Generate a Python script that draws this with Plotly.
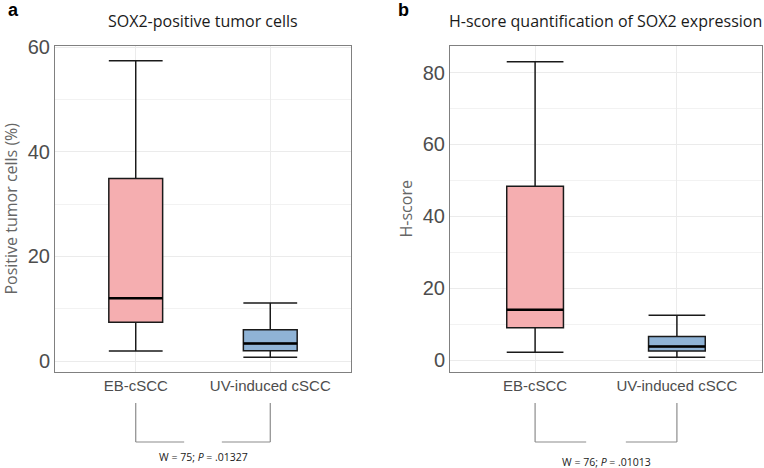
import plotly.graph_objects as go

categories = ["EB-cSCC", "UV-induced cSCC"]
xpos = [1, 2]

# Panel a: SOX2-positive tumor cells (%)
a_low = [1.9, 0.7]
a_q1 = [7.4, 1.95]
a_med = [12.0, 3.35]
a_q3 = [34.9, 6.0]
a_high = [57.4, 11.1]

# Panel b: H-score
b_low = [2.2, 0.8]
b_q1 = [9.0, 2.5]
b_med = [14.0, 3.8]
b_q3 = [48.4, 6.6]
b_high = [83.0, 12.5]

fills = ["#F5AEB0", "#8FB3D6"]
stat_a = "W = 75; <i>P</i> = .01327"
stat_b = "W = 76; <i>P</i> = .01013"

W, H = 764, 468
BOXW = 0.4

fig = go.Figure()

def add_panel(low, q1, med, q3, high, xa, ya):
    for i in range(2):
        fig.add_trace(go.Box(
            x=[xpos[i]], lowerfence=[low[i]], q1=[q1[i]], median=[med[i]],
            q3=[q3[i]], upperfence=[high[i]], width=BOXW, whiskerwidth=1,
            fillcolor=fills[i], line=dict(color="#1a1a1a", width=1.5),
            showlegend=False, xaxis=xa, yaxis=ya, hoverinfo="skip"))
        fig.add_trace(go.Scatter(
            x=[xpos[i] - BOXW / 2, xpos[i] + BOXW / 2], y=[med[i], med[i]],
            mode="lines", line=dict(color="black", width=2.6),
            showlegend=False, xaxis=xa, yaxis=ya, hoverinfo="skip"))

add_panel(a_low, a_q1, a_med, a_q3, a_high, "x", "y")
add_panel(b_low, b_q1, b_med, b_q3, b_high, "x2", "y2")

ydom = [1 - 371.5 / H, 1 - 46 / H]
tickfont = dict(family="Liberation Sans, Arial", size=20, color="#4d4d4d")
xtickfont = dict(family="Liberation Sans, Arial", size=15, color="#4d4d4d")
frame = dict(showline=True, mirror=True, linecolor="#808080", linewidth=1, automargin=False,
             zeroline=False, ticks="", showgrid=True, gridcolor="#ebebeb", gridwidth=1)
ytitlefont = dict(family="Open Sans", size=16, color="#666666")

fig.update_layout(
    width=W, height=H, margin=dict(l=0, r=0, t=0, b=0, autoexpand=False),
    plot_bgcolor="white", paper_bgcolor="white",
    xaxis=dict(domain=[55 / W, 351 / W], range=[0.4, 2.6], tickvals=xpos, ticktext=categories,
               tickfont=xtickfont, anchor="y", **frame),
    yaxis=dict(domain=ydom, range=[-2.0, 60.2], tickvals=[0, 20, 40, 60], tickfont=tickfont,
               minor=dict(tickvals=[10, 30, 50], showgrid=True, gridcolor="#f2f2f2"),
               title=dict(text="Positive tumor cells (%)", standoff=6, font=ytitlefont),
               anchor="x", **frame),
    xaxis2=dict(domain=[450 / W, 762 / W], range=[0.4, 2.6], tickvals=xpos, ticktext=categories,
                tickfont=xtickfont, anchor="y2", **frame),
    yaxis2=dict(domain=ydom, range=[-3.17, 87.4], tickvals=[0, 20, 40, 60, 80], tickfont=tickfont,
                minor=dict(tickvals=[10, 30, 50, 70], showgrid=True, gridcolor="#f2f2f2"),
                title=dict(text="H-score", standoff=6, font=ytitlefont),
                anchor="x2", **frame),
)

annos = [
    dict(text="<b>a</b>", x=13 / W, y=1 - 10 / H, xanchor="center", yanchor="middle",
         font=dict(family="Liberation Sans, Arial", size=18, color="black")),
    dict(text="<b>b</b>", x=403 / W, y=1 - 10 / H, xanchor="center", yanchor="middle",
         font=dict(family="Liberation Sans, Arial", size=18, color="black")),
    dict(text="SOX2-positive tumor cells", x=203 / W, y=1 - 21 / H, xanchor="center", yanchor="middle",
         font=dict(family="Open Sans", size=16, color="#1a1a1a")),
    dict(text="H-score quantification of SOX2 expression", x=605 / W, y=1 - 21 / H,
         xanchor="center", yanchor="middle",
         font=dict(family="Open Sans", size=16, color="#1a1a1a")),
]
for xa, txt, ytxt in [("x", stat_a, 457), ("x2", stat_b, 462)]:
    annos.append(dict(text=txt, x=1.5, xref=xa, y=1 - ytxt / H, yref="paper",
                      xanchor="center", yanchor="middle",
                      font=dict(family="Open Sans", size=10.5, color="#1a1a1a")))
for a in annos:
    a.setdefault("xref", "paper")
    a.setdefault("yref", "paper")
    a["showarrow"] = False
fig.update_layout(annotations=annos)

shapes = []
for xa in ["x", "x2"]:
    ytop = 1 - 403 / H
    ybot = 1 - 442 / H
    lc = dict(color="#8c8c8c", width=1.2)
    shapes += [
        dict(type="line", xref=xa, yref="paper", x0=xpos[0], x1=xpos[0], y0=ytop, y1=ybot, line=lc),
        dict(type="line", xref=xa, yref="paper", x0=xpos[1], x1=xpos[1], y0=ytop, y1=ybot, line=lc),
        dict(type="line", xref=xa, yref="paper", x0=xpos[0], x1=1.36, y0=ybot, y1=ybot, line=lc),
        dict(type="line", xref=xa, yref="paper", x0=1.64, x1=xpos[1], y0=ybot, y1=ybot, line=lc),
    ]
fig.update_layout(shapes=shapes)

fig.write_html("out.html")
